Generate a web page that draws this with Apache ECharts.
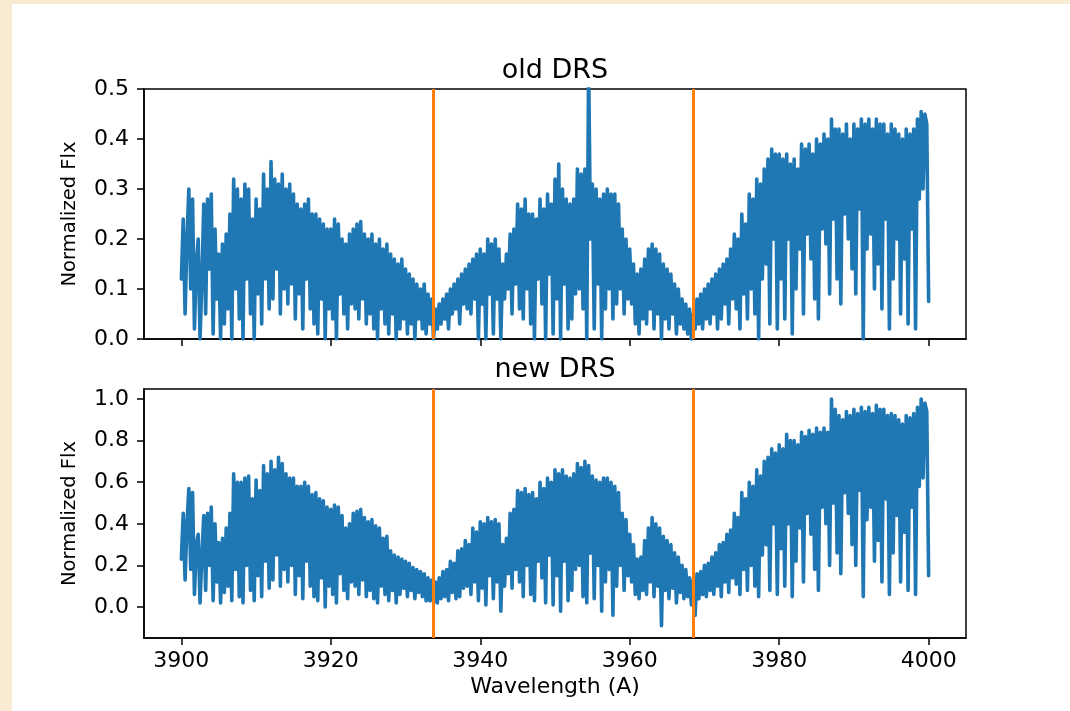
<!DOCTYPE html>
<html>
<head>
<meta charset="utf-8">
<script src="https://cdn.jsdelivr.net/npm/echarts@6/dist/echarts.min.js"></script>
<style>
  html, body { margin: 0; padding: 0; background: #f9ebd2; }
  #paper { position: absolute; left: 12px; top: 4px; width: 1058px; height: 707px; background: #ffffff; }
  #main { position: absolute; left: 0; top: 0; width: 1070px; height: 711px; }
</style>
</head>
<body>
<div id="paper"></div>
<div id="main"></div>
<script>
// wavelength grid of the spectra (Angstrom)
var waveStart = 3900;
var waveStep = 0.25;

// old DRS normalized flux, one row per 5 A (4 samples per A)
var oldFlux = [
  0.12,0.24,0.05,0.20, 0.30,0.10,0.28,0.02, 0.15,0.20,0.00,0.12, 0.27,0.05,0.28,0.14, 0.29,0.01,0.22,0.08,
  0.17,0.00,0.19,0.03, 0.21,0.06,0.25,0.00, 0.32,0.10,0.30,0.04, 0.28,0.00,0.31,0.12, 0.30,0.05,0.24,0.00,
  0.28,0.09,0.26,0.03, 0.33,0.12,0.30,0.06, 0.355,0.08,0.32,0.14, 0.31,0.05,0.33,0.10, 0.30,0.07,0.31,0.11,
  0.29,0.04,0.27,0.09, 0.26,0.02,0.27,0.12, 0.28,0.06,0.25,0.03, 0.25,0.01,0.24,0.08, 0.23,0.00,0.22,0.06,
  0.22,0.04,0.24,0.00, 0.23,0.09,0.20,0.05, 0.19,0.02,0.21,0.07, 0.22,0.06,0.23,0.04, 0.235,0.08,0.21,0.03,
  0.20,0.05,0.21,0.02, 0.19,0.00,0.20,0.06, 0.18,0.03,0.19,0.01, 0.17,0.05,0.16,0.00, 0.15,0.02,0.16,0.04,
  0.14,0.01,0.13,0.03, 0.12,0.00,0.11,0.04, 0.10,0.02,0.11,0.01, 0.09,0.03,0.08,0.00, 0.06,0.02,0.07,0.03,
  0.08,0.04,0.09,0.02, 0.10,0.05,0.11,0.06, 0.12,0.03,0.13,0.07, 0.14,0.06,0.15,0.05, 0.16,0.08,0.17,0.00,
  0.18,0.07,0.17,0.00, 0.20,0.09,0.19,0.01, 0.20,0.08,0.18,0.00, 0.15,0.08,0.17,0.10, 0.21,0.05,0.22,0.11,
  0.27,0.06,0.26,0.04, 0.28,0.10,0.25,0.03, 0.25,0.00,0.24,0.12, 0.28,0.07,0.26,0.00, 0.29,0.13,0.27,0.01,
  0.32,0.08,0.35,0.00, 0.30,0.11,0.28,0.02, 0.27,0.04,0.28,0.09, 0.34,0.10,0.33,0.06, 0.34,0.00,0.55,0.20,
  0.31,0.02,0.30,0.11, 0.28,0.00,0.29,0.06, 0.30,0.10,0.29,0.04, 0.29,0.07,0.27,0.10, 0.22,0.05,0.20,0.08,
  0.18,0.07,0.15,0.03, 0.13,0.01,0.14,0.04, 0.16,0.03,0.18,0.06, 0.19,0.02,0.18,0.05, 0.17,0.00,0.15,0.04,
  0.14,0.02,0.13,0.05, 0.11,0.01,0.10,0.03, 0.08,0.02,0.07,0.01, 0.06,0.00,0.05,0.02, 0.08,0.03,0.09,0.02,
  0.10,0.04,0.11,0.03, 0.12,0.05,0.13,0.02, 0.14,0.04,0.15,0.07, 0.16,0.03,0.18,0.08, 0.21,0.06,0.20,0.02,
  0.25,0.09,0.23,0.04, 0.29,0.10,0.28,0.05, 0.32,0.00,0.31,0.12, 0.34,0.15,0.36,0.03, 0.38,0.20,0.37,0.02,
  0.37,0.12,0.36,0.04, 0.37,0.20,0.35,0.01, 0.36,0.10,0.34,0.18, 0.39,0.05,0.38,0.21, 0.39,0.16,0.37,0.08,
  0.40,0.04,0.39,0.22, 0.41,0.19,0.40,0.09, 0.44,0.24,0.42,0.12, 0.42,0.07,0.41,0.25, 0.43,0.20,0.40,0.14,
  0.43,0.09,0.42,0.26, 0.44,0.00,0.43,0.18, 0.44,0.21,0.42,0.10, 0.44,0.15,0.43,0.06, 0.43,0.24,0.41,0.02,
  0.43,0.12,0.42,0.20, 0.41,0.05,0.40,0.16, 0.42,0.03,0.41,0.22, 0.42,0.02,0.44,0.28, 0.455,0.30,0.45,0.43,
  0.075
];

// new DRS normalized flux, same sampling
var newFlux = [
  0.23,0.45,0.13,0.40, 0.57,0.18,0.55,0.06, 0.30,0.35,0.02,0.25, 0.44,0.08,0.45,0.20, 0.48,0.03,0.40,0.12,
  0.31,0.02,0.33,0.07, 0.38,0.10,0.45,0.03, 0.64,0.18,0.60,0.05, 0.60,0.02,0.62,0.20, 0.63,0.08,0.52,0.03,
  0.61,0.15,0.56,0.05, 0.68,0.22,0.64,0.09, 0.70,0.13,0.66,0.25, 0.72,0.10,0.69,0.18, 0.64,0.12,0.62,0.20,
  0.62,0.06,0.58,0.15, 0.58,0.04,0.60,0.22, 0.58,0.10,0.54,0.05, 0.55,0.03,0.52,0.14, 0.51,0.00,0.48,0.10,
  0.47,0.06,0.49,0.02, 0.48,0.16,0.44,0.08, 0.38,0.04,0.40,0.12, 0.45,0.10,0.46,0.06, 0.47,0.13,0.43,0.05,
  0.41,0.08,0.42,0.04, 0.39,0.02,0.38,0.10, 0.33,0.06,0.34,0.03, 0.27,0.08,0.25,0.02, 0.24,0.06,0.23,0.09,
  0.22,0.05,0.21,0.08, 0.19,0.04,0.18,0.07, 0.17,0.05,0.16,0.03, 0.14,0.03,0.13,0.02, 0.12,0.02,0.14,0.04,
  0.17,0.05,0.18,0.03, 0.22,0.07,0.21,0.04, 0.27,0.05,0.28,0.09, 0.32,0.10,0.30,0.06, 0.38,0.12,0.36,0.03,
  0.41,0.09,0.40,0.01, 0.43,0.15,0.41,0.04, 0.42,0.12,0.40,-0.02, 0.30,0.10,0.33,0.16, 0.45,0.09,0.47,0.18,
  0.56,0.12,0.55,0.05, 0.57,0.20,0.54,0.06, 0.55,0.03,0.52,0.22, 0.60,0.14,0.57,0.02, 0.62,0.25,0.60,0.01,
  0.66,0.15,0.64,-0.02, 0.66,0.22,0.63,0.03, 0.62,0.08,0.64,0.18, 0.69,0.20,0.67,0.05, 0.70,0.02,0.68,0.26,
  0.63,0.04,0.61,0.20, 0.60,-0.02,0.62,0.12, 0.62,0.18,0.60,-0.04, 0.58,0.10,0.55,0.20, 0.45,0.08,0.42,0.15,
  0.35,0.12,0.30,0.06, 0.23,0.04,0.24,0.08, 0.32,0.06,0.38,0.12, 0.43,0.05,0.40,0.10, 0.38,-0.09,0.34,0.08,
  0.32,0.04,0.30,0.09, 0.26,0.02,0.24,0.07, 0.20,0.04,0.18,0.05, 0.14,0.01,0.13,-0.04, 0.16,0.04,0.17,0.06,
  0.20,0.05,0.21,0.08, 0.24,0.06,0.26,0.10, 0.30,0.05,0.31,0.12, 0.35,0.07,0.37,0.14, 0.45,0.11,0.43,0.06,
  0.55,0.18,0.52,0.08, 0.60,0.20,0.58,0.10, 0.66,0.05,0.63,0.25, 0.70,0.30,0.72,0.08, 0.76,0.40,0.74,0.06,
  0.78,0.28,0.76,0.10, 0.83,0.40,0.80,0.05, 0.80,0.22,0.78,0.38, 0.84,0.12,0.82,0.45, 0.85,0.35,0.83,0.18,
  0.86,0.08,0.84,0.48, 0.86,0.40,0.84,0.20, 1.00,0.50,0.95,0.26, 0.92,0.16,0.90,0.55, 0.94,0.45,0.92,0.30,
  0.95,0.20,0.93,0.56, 0.96,0.05,0.94,0.42, 0.96,0.48,0.93,0.22, 0.97,0.32,0.95,0.12, 0.95,0.52,0.92,0.06,
  0.93,0.26,0.92,0.44, 0.90,0.12,0.88,0.36, 0.92,0.08,0.91,0.48, 0.93,0.06,0.96,0.58, 1.00,0.62,0.98,0.94,
  0.15
];

// Ca II K and H line positions
var caLines = [3933.66, 3968.47];

var xTicks = [3900, 3920, 3940, 3960, 3980, 4000];
var oldTicks = [0.0, 0.1, 0.2, 0.3, 0.4, 0.5];
var newTicks = [0.0, 0.2, 0.4, 0.6, 0.8, 1.0];

var FONT = 'DejaVu Sans';
var BLUE = '#1f77b4';
var ORANGE = '#ff7f0e';

function toPairs(flux) {
    var out = [];
    for (var i = 0; i < flux.length; i++) {
        out.push([waveStart + i * waveStep, flux[i]]);
    }
    return out;
}

function xAxisFor(gridIndex, showLabels) {
    return {
        type: 'value',
        gridIndex: gridIndex,
        min: 3895,
        max: 4005,
        name: showLabels ? 'Wavelength (A)' : '',
        nameLocation: 'middle',
        nameGap: 38,
        nameTextStyle: { fontFamily: FONT, fontSize: 22, color: '#000' },
        axisLine: { show: true, onZero: false, lineStyle: { color: '#000', width: 1.5 } },
        axisTick: { show: true, length: 7, lineStyle: { color: '#000', width: 1.5 }, customValues: xTicks },
        axisLabel: {
            show: showLabels, margin: 12, fontFamily: FONT, fontSize: 22, color: '#000',
            customValues: xTicks,
            formatter: function (v) { return String(v); }
        },
        splitLine: { show: false }
    };
}

function yAxisFor(gridIndex, min, max, ticks) {
    return {
        type: 'value',
        gridIndex: gridIndex,
        min: min,
        max: max,
        name: 'Normalized Flx',
        nameLocation: 'middle',
        nameGap: 64,
        nameTextStyle: { fontFamily: FONT, fontSize: 19.5, color: '#000' },
        axisLine: { show: true, onZero: false, lineStyle: { color: '#000', width: 1.5 } },
        axisTick: { show: true, length: 7, lineStyle: { color: '#000', width: 1.5 }, customValues: ticks },
        axisLabel: {
            margin: 15, fontFamily: FONT, fontSize: 22, color: '#000',
            customValues: ticks,
            formatter: function (v) { return v.toFixed(1); }
        },
        splitLine: { show: false }
    };
}

function caSeries(xi, yi) {
    return {
        type: 'line',
        xAxisIndex: xi,
        yAxisIndex: yi,
        data: [],
        silent: true,
        z: 5,
        markLine: {
            symbol: 'none',
            silent: true,
            animation: false,
            label: { show: false },
            lineStyle: { color: ORANGE, width: 3, type: 'solid' },
            data: caLines.map(function (w) { return { xAxis: w }; })
        }
    };
}

function fluxSeries(name, xi, flux) {
    return {
        name: name, type: 'line', xAxisIndex: xi, yAxisIndex: xi, data: toPairs(flux),
        showSymbol: false, sampling: null, clip: true,
        lineStyle: { color: BLUE, width: 3.6, join: 'round', cap: 'round' }, itemStyle: { color: BLUE }
    };
}

var chart = echarts.init(document.getElementById('main'), null, { renderer: 'canvas' });
var option = {
    animation: false,
    backgroundColor: 'transparent',
    title: [
        { text: 'old DRS', left: 555, top: 57, textAlign: 'center', padding: 0,
          textStyle: { fontFamily: FONT, fontSize: 27, fontWeight: 'normal', color: '#000' } },
        { text: 'new DRS', left: 555, top: 356, textAlign: 'center', padding: 0,
          textStyle: { fontFamily: FONT, fontSize: 27, fontWeight: 'normal', color: '#000' } }
    ],
    grid: [
        { left: 144, top: 89, width: 822, height: 250, show: true, borderColor: '#000', borderWidth: 1.5, backgroundColor: '#fff' },
        { left: 144, top: 389, width: 822, height: 249, show: true, borderColor: '#000', borderWidth: 1.5, backgroundColor: '#fff' }
    ],
    xAxis: [xAxisFor(0, false), xAxisFor(1, true)],
    yAxis: [yAxisFor(0, 0, 0.5, oldTicks), yAxisFor(1, -0.149, 1.048, newTicks)],
    series: [
        fluxSeries('old DRS', 0, oldFlux),
        caSeries(0, 0),
        fluxSeries('new DRS', 1, newFlux),
        caSeries(1, 1)
    ]
};
chart.setOption(option);
</script>
</body>
</html>
